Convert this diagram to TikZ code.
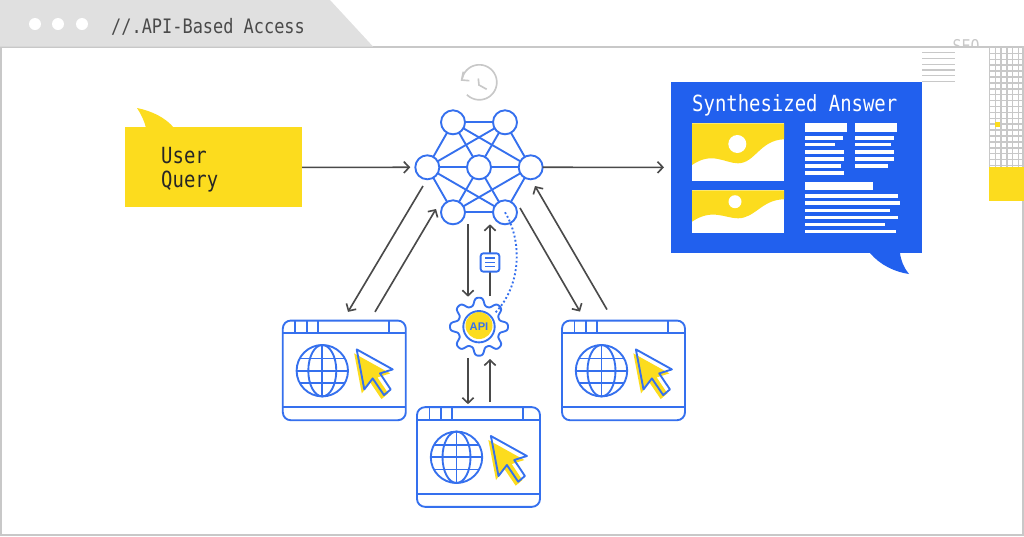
\documentclass[tikz,border=0pt]{standalone}
\usepackage{fontspec}
\usetikzlibrary{arrows.meta}
\newfontfamily\monofont[FakeStretch=0.85]{DejaVu Sans Mono}
\newfontfamily\apifont{Liberation Sans}
\definecolor{ansblue}{HTML}{2160EE}
\definecolor{netblue}{HTML}{3570EE}
\definecolor{qyellow}{HTML}{FCDC1E}
\definecolor{tabgray}{HTML}{E0E0E0}
\definecolor{framegray}{HTML}{C8C8C8}
\definecolor{arrowgray}{HTML}{4A4A4A}
\tikzset{
  netnode/.style={circle, draw=netblue, line width=1.6pt, minimum size=7.2mm, inner sep=0pt, outer sep=0pt},
  netline/.style={netblue, line width=1.6pt},
  flowline/.style={arrowgray, line width=1.4pt, -{Straight Barb[length=1.6mm, width=3.4mm]}},
  browserwin/.style={rectangle, draw=netblue, line width=1.6pt, rounded corners=2.4mm, minimum width=36.9mm, minimum height=29.9mm, inner sep=0pt, outer sep=0pt},
  graytext/.style={font=\monofont\fontsize{17}{20}\selectfont, inner sep=0pt},
  bigtext/.style={font=\monofont\fontsize{19}{20.5}\selectfont},
  greyrule/.style={framegray, line width=1.3pt}
}
\begin{document}
\begin{tikzpicture}[x=0.3mm, y=-0.3mm]
\useasboundingbox (0,0) rectangle (1024,536);
% frame and tab
\node[graytext, text=framegray, anchor=base, font=\monofont\fontsize{15}{18}\selectfont] (seoText) at (966,52) {SEO};
\draw[framegray, line width=1.3pt, fill=white] (1,47) rectangle (1023,535);
\fill[tabgray] (0,0) -- (330,0) -- (373,46.5) -- (0,46.5) -- cycle;
\foreach \x in {35,58,82}
  \fill[white] (\x,24) circle (6);
\node[graytext, text=arrowgray, anchor=base west] (tabTitle) at (111,33) {//.API-Based Access};

% top right decoration
\foreach \y in {52.7,58.3,64.3,70,75.7,81.3}
  \draw[greyrule] (922,\y) -- (954.5,\y);
\foreach \i in {0,...,6}
  \draw[greyrule] (989.5+5.77*\i,47) -- (989.5+5.77*\i,167);
\foreach \i in {0,...,20}
  \draw[greyrule] (989,47.5+5.9*\i) -- (1023.5,47.5+5.9*\i);
\fill[qyellow] (995,122) rectangle (999.5,126.5);
\fill[qyellow] (989,167.3) rectangle (1023.5,201.3);

% user query
\fill[qyellow] (137,108) .. controls (152,111) and (166,118) .. (174,128) -- (146,128) .. controls (144,120) and (141,114) .. cycle;
\node[rectangle, fill=qyellow, minimum width=5.31cm, minimum height=2.4cm, inner sep=0pt, outer sep=0pt] (queryBox) at (213.5,167.4) {};
\node[bigtext, align=left, text=black!85, inner sep=0pt, anchor=west] (queryText) at (161,169.4) {User\\Query};

% network
\node[netnode] (nodeTL) at (453,122.3) {};
\node[netnode] (nodeTR) at (505,122.3) {};
\node[netnode] (nodeL) at (427.3,167.3) {};
\node[netnode] (nodeC) at (479,167.3) {};
\node[netnode] (nodeR) at (530.7,167.3) {};
\node[netnode] (nodeBL) at (453,212.3) {};
\node[netnode] (nodeBR) at (505,212.3) {};
\foreach \a/\b in {nodeTL/nodeTR, nodeTR/nodeR, nodeR/nodeBR, nodeBR/nodeBL, nodeBL/nodeL, nodeL/nodeTL, nodeC/nodeTL, nodeC/nodeTR, nodeC/nodeL, nodeC/nodeR, nodeC/nodeBL, nodeC/nodeBR, nodeTL/nodeR, nodeTR/nodeL, nodeL/nodeBR, nodeR/nodeBL}
  \draw[netline] (\a) -- (\b);

% clock
\draw[framegray, line width=1.4pt] plot[domain=190:495, samples=60, smooth, variable=\t] ({479.3+17.5*cos(\t)},{82.3+17.5*sin(\t)});
\draw[framegray, line width=1.4pt] (463.3,71.7) -- (461.7,80) -- (469.3,80.7);
\draw[framegray, line width=1.4pt] (478.3,78.5) -- (479,85) -- (486.7,89.3);

% answer panel
\fill[ansblue] (870,253) .. controls (880,265) and (895,272) .. (909,274) .. controls (904,268) and (901,261) .. (900,253) -- cycle;
\node[rectangle, fill=ansblue, minimum width=7.53cm, minimum height=5.15cm, inner sep=0pt, outer sep=0pt] (answerBox) at (796.5,167.4) {};
\node[bigtext, text=white, anchor=base west, inner sep=0pt] (answerTitle) at (692,111.7) {Synthesized Answer};
% first image
\fill[white] (692,123.3) rectangle (784,181.3);
\fill[qyellow] (692,123.3) -- (784,123.3) -- (784,139.3) .. controls (760,140) and (755,163.3) .. (738,163.3) .. controls (725,163.3) and (712,151) .. (692,165) -- cycle;
\fill[white] (737.3,144) circle (9);
% second image
\fill[white] (692,190.3) rectangle (784,233);
\fill[qyellow] (692,190.3) -- (784,190.3) -- (784,199.3) .. controls (762,199.5) and (755,218.3) .. (738,218.3) .. controls (725,218.3) and (712,208) .. (692,221.7) -- cycle;
\fill[white] (735,201.7) circle (6.5);
% text bars
\fill[white] (805.3,123.3) rectangle (846.7,132);
\fill[white] (855.3,123.3) rectangle (897,132);
\fill[white] (805.3,181.7) rectangle (873.3,190.3);
\foreach \y/\xend in {138/842.7, 144.7/835, 152/843.7, 159/843.7, 166/841, 173/843.7}
  \fill[white] (805.3,\y-1.6) rectangle (\xend,\y+1.6);
\foreach \y/\xend in {138/894, 144.7/890.7, 152/894, 159/894, 166/887.7}
  \fill[white] (855.3,\y-1.6) rectangle (\xend,\y+1.6);
\foreach \y/\xend in {196/898.3, 203/900.3, 210.3/890.3, 217.3/898, 224.3/885, 231.3/895.7}
  \fill[white] (805.3,\y-1.6) rectangle (\xend,\y+1.6);

% browsers
\foreach \name/\cx/\cy in {browserL/344.3/370.4, browserR/623.5/370.4, browserB/478.5/457}{
  \node[browserwin] (\name) at (\cx,\cy) {};
  \begin{scope}[shift={(\cx,\cy)}]
    \draw[netline] (-61.5,-37) -- (61.5,-37);
    \draw[netline] (-61.5,37) -- (61.5,37);
    \foreach \x in {-49,-37.6,-26.3,44.7}
      \draw[netline] (\x,-49.8) -- (\x,-37);
    % globe
    \draw[netline] (-22,0.3) circle (25.7);
    \draw[netline] (-22,0.3) ellipse (14 and 25.7);
    \draw[netline] (-22,-25.4) -- (-22,26);
    \draw[netline] (-47.7,0.3) -- (3.7,0.3);
    \draw[netline] (-44.6,-11.9) -- (0.6,-11.9);
    \draw[netline] (-44.6,12.5) -- (0.6,12.5);
    % cursor
    \fill[qyellow, shift={(-2.5,4)}] (12.4,-21) -- (48.4,-1) -- (35.7,3) -- (46.4,19) -- (39.7,24.7) -- (28.4,8) -- (20,19) -- cycle;
    \draw[netline, line join=round] (12.4,-21) -- (48.4,-1) -- (35.7,3) -- (46.4,19) -- (39.7,24.7) -- (28.4,8) -- (20,19) -- cycle;
  \end{scope}
}

% api gear
\node[circle, minimum size=17.4mm, inner sep=0pt, outer sep=0pt] (gearApi) at (479,326.7) {};
\draw[netline] plot[domain=0:360, samples=145, smooth cycle, variable=\t] ({479+(25.2+3.8*tanh(1.6*cos(8*\t))/tanh(1.6))*cos(\t)},{326.7+(25.2+3.8*tanh(1.6*cos(8*\t))/tanh(1.6))*sin(\t)});
\fill[qyellow] (479,325.5) circle (13.5);
\draw[netline] (479,326.7) circle (15.7);
\node[font=\apifont\bfseries\fontsize{9.5}{10}\selectfont, text=netblue, inner sep=0pt] (apiLabel) at (479,327) {API};

% dotted link
\draw[netline, dotted] (nodeBR.center) .. controls (522,240) and (522,285) .. ([shift={(16,-13.7)}]gearApi.center);

% arrows
\draw[flowline, shorten >=1.5mm] (queryBox) -- (nodeL);
\draw[flowline, shorten >=2.1mm] (nodeR) -- (answerBox);
\draw[flowline] ([shift={(-4.3,6.7)}]nodeL.south) -- ([shift={(3.7,-8.7)}]browserL.north);
\draw[flowline] ([shift={(30.7,-8.7)}]browserL.north) -- ([shift={(-5,-3.3)}]nodeBL.west);
\draw[flowline] ([shift={(3,-4.3)}]nodeBR.east) -- ([shift={(-43.5,-9)}]browserR.north);
\draw[flowline] ([shift={(-16.5,-11)}]browserR.north) -- ([shift={(4.3,6.7)}]nodeR.south);
\draw[flowline] ([shift={(15,0)}]nodeBL.south) -- ([shift={(-11,-1)}]gearApi.north);
\draw[flowline] ([shift={(11,-1.7)}]gearApi.north) -- ([shift={(-15,0)}]nodeBR.south);
\draw[flowline] ([shift={(-11,2.3)}]gearApi.south) -- ([shift={(-10.5,-3)}]browserB.north);
\draw[flowline] ([shift={(11.5,-5)}]browserB.north) -- ([shift={(11,3.3)}]gearApi.south);

% document icon on the arrow
\node[rectangle, draw=netblue, fill=white, line width=1.6pt, rounded corners=0.8mm, minimum width=5.6mm, minimum height=5.5mm, inner sep=0pt] (docIcon) at (490,262.5) {};
\foreach \y in {258,262.3,266.7}
  \draw[netline, line width=1.2pt] (485,\y) -- (495,\y);
\end{tikzpicture}
\end{document}
